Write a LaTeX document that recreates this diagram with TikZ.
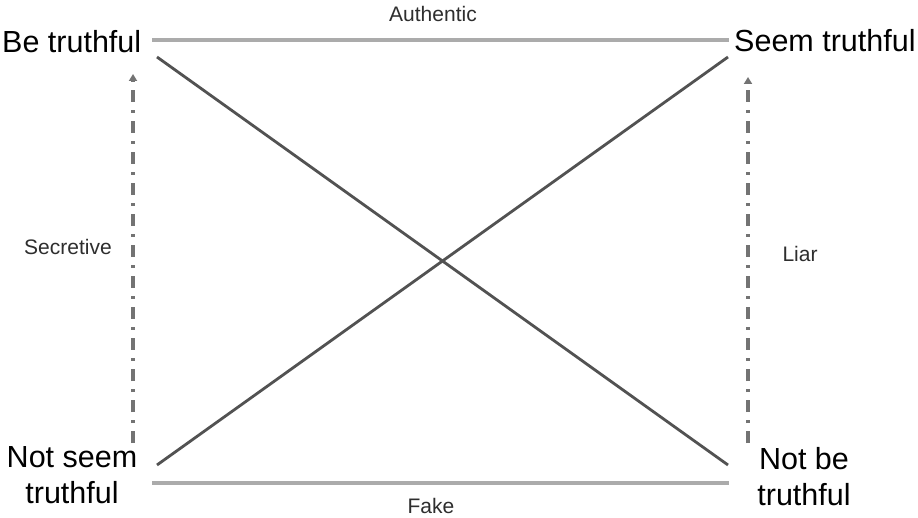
\documentclass[tikz,border=0pt]{standalone}
\usepackage{fontspec}
\setmainfont{Liberation Sans}
\usetikzlibrary{arrows.meta}
\begin{document}
\begin{tikzpicture}[x=1pt,y=-1pt,
  bigtext/.style={inner sep=0pt,font=\fontsize{30.5}{35.5}\selectfont,text=black},
  smalltext/.style={inner sep=0pt,font=\fontsize{21}{25}\selectfont,text=black!82},
  hline/.style={line width=4pt,draw=black!33},
  diag/.style={line width=2.8pt,draw=black!68},
  varrow/.style={line width=3.5pt,draw=black!55,dash pattern=on 12pt off 8pt on 3pt off 8pt,
    -{Triangle[length=7pt,width=8pt]}, shorten >=0pt}]
\useasboundingbox (0,0) rectangle (918,518);
\fill[white] (0,0) rectangle (918,518);
% corner labels
\node[bigtext,anchor=base west] (bt) at (2,53) {Be truthful};
\node[bigtext,anchor=base west] (st) at (734,52) {Seem truthful};
\node[bigtext,align=center,anchor=base] (nst) at (72,503) {Not seem\\truthful};
\node[bigtext,align=center,anchor=base] (nbt) at (804,505) {Not be\\truthful};
% edge labels
\node[smalltext,anchor=base] (auth) at (433,22) {Authentic};
\node[smalltext,anchor=base] (fake) at (431,513) {Fake};
\node[smalltext,anchor=base] (sec) at (68,255) {Secretive};
\node[smalltext,anchor=base] (liar) at (800,262) {Liar};
% line end points
\coordinate (tl) at (152,40);
\coordinate (tr) at (729,40);
\coordinate (bl) at (152,483);
\coordinate (br) at (729,483);
\coordinate (d1s) at (157,57);
\coordinate (d1e) at (728,465);
\coordinate (d2s) at (157,465);
\coordinate (d2e) at (728,57);
\coordinate (la) at (133,443);
\coordinate (lb) at (133,74);
\coordinate (ra) at (748,443);
\coordinate (rb) at (748,77);
% lines
\draw[hline] (tl) -- (tr);
\draw[hline] (bl) -- (br);
\draw[diag] (d1s) -- (d1e);
\draw[diag] (d2s) -- (d2e);
\draw[varrow] (la) -- (lb);
\draw[varrow] (ra) -- (rb);
\end{tikzpicture}
\end{document}
